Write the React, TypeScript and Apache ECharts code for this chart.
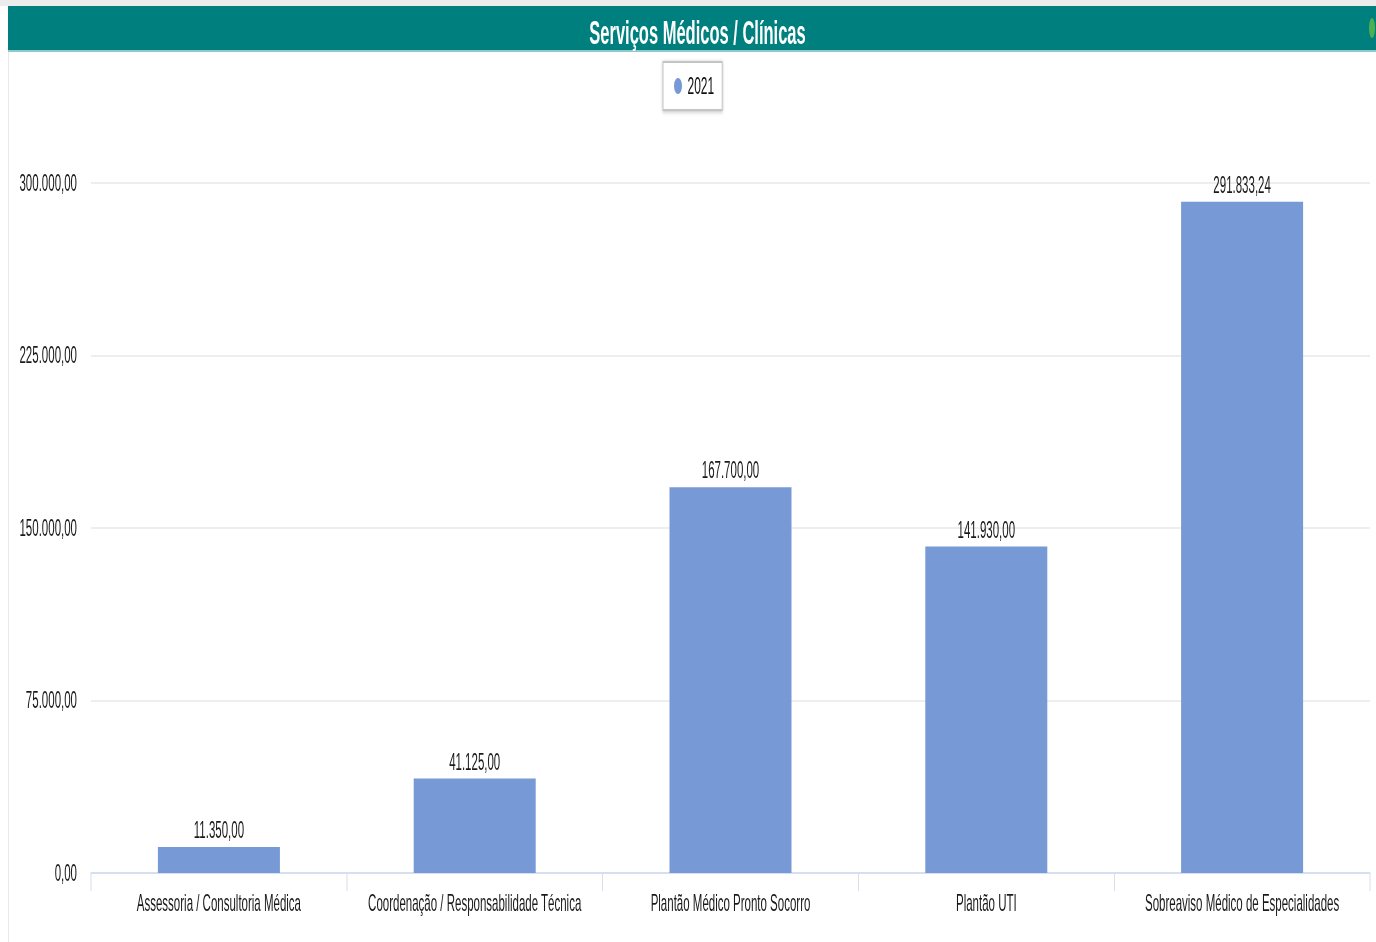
import React, { useEffect, useRef } from "react";
import * as echarts from "echarts";

const categories = [
  "Assessoria / Consultoria Médica",
  "Coordenação / Responsabilidade Técnica",
  "Plantão Médico Pronto Socorro",
  "Plantão UTI",
  "Sobreaviso Médico de Especialidades",
];
const values2021 = [11350.0, 41125.0, 167700.0, 141930.0, 291833.24];
const seriesName = "2021";
const titleText = "Serviços Médicos / Clínicas";
const yTicks = { min: 0, max: 300000, interval: 75000 };

// The reference picture is horizontally compressed; the chart is drawn at
// double width and squeezed with a CSS scaleX to reproduce that look.
const SX = 0.5;
const W = 1376 / SX;
const H = 942;
const FONT = "'Liberation Sans', Arial, sans-serif";

function fmtBR(v: number): string {
  const fixed = Math.abs(v).toFixed(2);
  const [intPart, dec] = fixed.split(".");
  const withDots = intPart.replace(/\B(?=(\d{3})+(?!\d))/g, ".");
  return (v < 0 ? "-" : "") + withDots + "," + dec;
}

export default function App() {
  const ref = useRef<HTMLDivElement>(null);
  useEffect(() => {
    if (!ref.current) return;
    const chart = echarts.init(ref.current, null, { renderer: "svg" });
    chart.setOption({
      animation: false,
      backgroundColor: "#ffffff",
      textStyle: { fontFamily: FONT },
      graphic: [
        { type: "rect", left: 0, top: 0, shape: { width: W, height: 6 }, style: { fill: "#ececec" }, z: -1 },
        { type: "rect", left: 16, top: 6, shape: { width: W - 16, height: 46 }, style: { fill: "#007f7f" }, z: 0 },
        { type: "rect", left: 16, top: 50, shape: { width: W - 16, height: 2 }, style: { fill: "#8fc9c9" }, z: 1 },
        { type: "rect", left: 16, top: 52, shape: { width: 2, height: H - 52 }, style: { fill: "#e8e8e8" }, z: 1 },
        { type: "ellipse", shape: { cx: W - 8, cy: 28, rx: 6, ry: 10 }, style: { fill: "#4caf50" }, z: 2 },
      ],
      title: {
        text: titleText,
        left: 1390,
        textAlign: "center",
        top: 11,
        textStyle: { color: "#ffffff", fontSize: 33, fontWeight: "bold", fontFamily: FONT },
        z: 5,
      },
      legend: {
        data: [seriesName],
        top: 62,
        left: 1326,
        padding: [12, 16, 12, 22],
        itemWidth: 16,
        itemHeight: 18,
        itemGap: 8,
        icon: "circle",
        borderColor: "#c4c4c4",
        borderWidth: 2,
        shadowColor: "rgba(0,0,0,0.25)",
        shadowBlur: 4,
        shadowOffsetY: 1,
        backgroundColor: "#ffffff",
        textStyle: { color: "#111", fontSize: 24, fontFamily: FONT, padding: [0, 0, 0, 6] },
      },
      grid: { left: 182, right: 12, top: 183, bottom: 69, containLabel: false },
      xAxis: {
        type: "category",
        data: categories,
        axisLine: { show: true, lineStyle: { color: "#d6dfef", width: 2 } },
        axisTick: { show: true, length: 18, lineStyle: { color: "#d6dfef", width: 2 } },
        axisLabel: { color: "#1a1a1a", fontSize: 23, margin: 19, fontFamily: FONT, interval: 0 },
      },
      yAxis: {
        type: "value",
        min: yTicks.min,
        max: yTicks.max,
        interval: yTicks.interval,
        axisLine: { show: false },
        axisTick: { show: false },
        splitLine: { lineStyle: { color: "#eeeeee", width: 2 } },
        axisLabel: { color: "#1a1a1a", fontSize: 23, margin: 28, fontFamily: FONT, formatter: (v: number) => fmtBR(v) },
      },
      series: [
        {
          name: seriesName,
          type: "bar",
          data: values2021,
          barWidth: 244,
          itemStyle: { color: "#7799d5" },
          label: {
            show: true,
            position: "top",
            distance: 5,
            color: "#1a1a1a",
            fontSize: 23,
            fontFamily: FONT,
            formatter: (p: any) => fmtBR(p.value),
          },
        },
      ],
    });
    return () => chart.dispose();
  }, []);
  return (
    <div style={{ position: "absolute", left: 0, top: 0, width: 1376, height: H, overflow: "hidden" }}>
      <div
        ref={ref}
        style={{ width: W, height: H, transform: `scaleX(${SX})`, transformOrigin: "0 0" }}
      />
    </div>
  );
}
